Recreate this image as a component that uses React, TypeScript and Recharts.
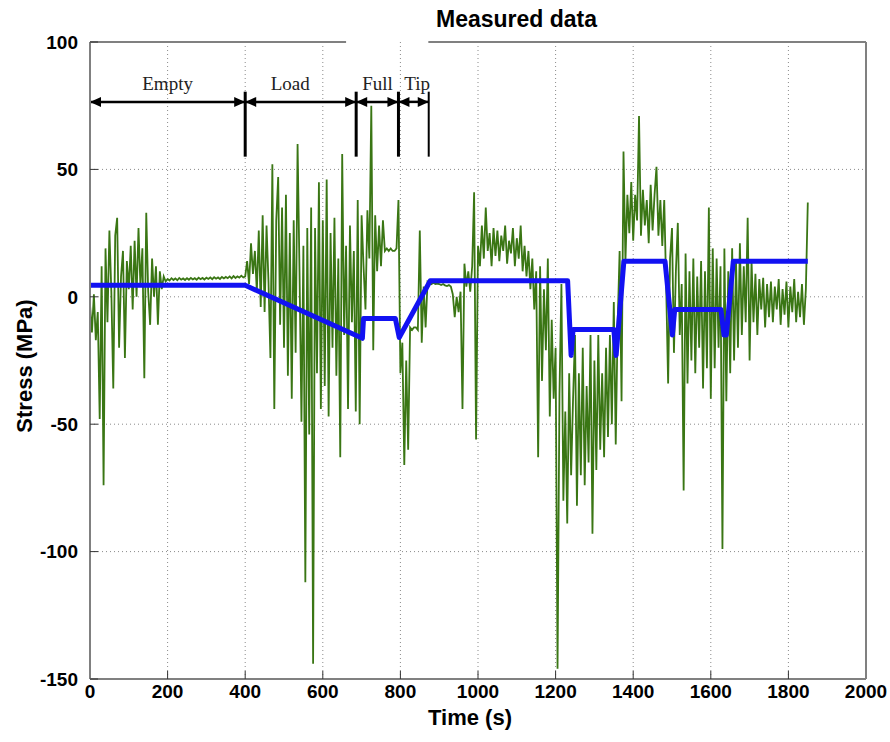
import { LineChart, Line, XAxis, YAxis, CartesianGrid, ReferenceLine } from 'recharts';

// measured stress, one sample every 5 s from t = 0 to t = 1850
const sampleStep = 5;
const measured = [
  -3, -14, 1, -17, -6, -48, 12, -74, 19, -10,
  26, 2, -36, 24, 31, -20, 8, 18, -24, 14,
  3, 20, -5, 22, 0, 27, 4, 19, -32, 33,
  2, -11, 15, 0, 12, -11, 10, 3, 8, 6,
  7, 6.4, 7.3, 6.6, 7.2, 6.5, 7.4, 6.7, 7.2, 6.6,
  7.3, 6.7, 7.4, 6.8, 7.3, 6.7, 7.5, 6.9, 7.4, 6.8,
  7.5, 7.0, 7.6, 6.9, 7.7, 7.1, 7.6, 7.0, 7.8, 7.2,
  7.8, 7.3, 8.0, 7.2, 8.1, 7.4, 8.0, 7.5, 8.3, 7.6,
  8, 14, 5, 21, 9, 18, 2, 26, -4, 32,
  -6, 28, 6, -24, 52, -44, 30, 47, -11, 35,
  -20, 40, -31, 25, -40, 30, -22, 60, 10, -49,
  20, -112, 27, -54, 35, -144, 27, -30, 45, -44,
  30, -35, 46, -47, 25, -20, 31, -31, 15, -63,
  56, -15, 20, -44, 28, -10, 18, -45, 38, -50,
  32, 12, -5, 34, 15, 75, -21, 32, 10, 28,
  12, 30, 18, 19, 18, 19, 18, 18, 19, 38,
  -30, -18, -66, -25, -60, -12, -13, -12, -12, -13,
  26, -18, 4, -12, 6, 5.5, 5, 5.5, 5, 5.2,
  5, 4.6, 5, 4.5, 4.2, 4.6, 4, 1, -8, 0,
  -6, 2, -44, 13, 4, 10, 2, 12, 41, -56,
  20, 12, 28, 15, 35, 18, 25, 12, 27, 16,
  26, 14, 24, 18, 28, 13, 22, 17, 27, 12,
  23, 15, 28, 10, 20, 8, 18, 3, 15, -5,
  10, -63, 12, -33, 3, -21, 15, -47, -9, -40,
  -20, -146, -38, 5, -80, -45, -89, -30, -70, -40,
  -15, -82, -30, -70, -20, -74, -35, -65, -15, -93,
  -25, -68, -15, -60, -30, -63, -20, -55, -15, -50,
  -2, -58, -10, 18, -41, 57, 14, 40, 25, 45,
  22, 40, 30, 71, 24, 42, 28, 38, 21, 44,
  26, 40, 51, 24, 38, 20, 38, 4, -34, 15,
  27, -22, 10, 29, -15, 5, -76, 17, -34, 10,
  -25, 15, -30, 8, -20, 14, -36, 10, -28, 35,
  -40, 19, -28, 15, -20, 12, -99, 19, -41, 10,
  -30, 19, -25, 14, -20, 21, -15, 12, -10, 31,
  -25, 14, -10, 9, -15, 7, -5, 7.5, -12, 5,
  -8, 6, -10, 4, -5, 7, -11, 3, -7, 6,
  -12, 4, -6, 7, -10, 2, -8, 5, -11, 3,
  37,
];

// model (blue) stress
const modelTimes = [0, 400, 702, 705, 787, 797, 877, 1231, 1240, 1245, 1350, 1356, 1376, 1482, 1501, 1507, 1626, 1634, 1640, 1658, 1850];
const modelStress = [4.5, 4.5, -16.3, -8.5, -8.5, -16, 6.3, 6.3, -23, -12.8, -12.8, -23, 14, 14, -15, -5, -5, -15, -15, 14, 14];

const xTicks = [0, 200, 400, 600, 800, 1000, 1200, 1400, 1600, 1800, 2000];
const yTicks = [-150, -100, -50, 0, 50, 100];

// phase annotations
const phaseNames = ['Empty', 'Load', 'Full', 'Tip'];
const phaseStart = [0, 400, 686, 795];
const phaseEnd = [400, 686, 795, 873];
const phaseLabelAt = [200, 516, 741, 843];
const markerTimes = [400, 686, 795, 873];
const arrowLevel = 76.5;
const markerTop = 80.5;
const markerBottom = 55;

const measuredData = measured.map((v, i) => ({ t: i * sampleStep, v }));
const modelData = modelTimes.map((t, i) => ({ t, v: modelStress[i] }));

const tickStyle = { fill: '#000', fontSize: 19, fontWeight: 'bold', fontFamily: 'Liberation Sans' };

const makeArrow = (name: string, t0: number, t1: number, at: number) => (p: any) => {
  const { x1, y1, x2 } = p;
  const w = 11, h = 5;
  const tx = x1 + ((at - t0) / (t1 - t0)) * (x2 - x1);
  return (
    <g>
      <line x1={x1} y1={y1} x2={x2} y2={y1} stroke="#000" strokeWidth={2.5} />
      <polygon points={`${x1},${y1} ${x1 + w},${y1 - h} ${x1 + w},${y1 + h}`} fill="#000" />
      <polygon points={`${x2},${y1} ${x2 - w},${y1 - h} ${x2 - w},${y1 + h}`} fill="#000" />
      <text x={tx} y={y1 - 12} textAnchor="middle" fontFamily="Liberation Serif" fontSize={19} fill="#222">{name}</text>
    </g>
  );
};

export default function App() {
  return (
    <div style={{ position: 'absolute', left: 0, top: 0, width: 890, height: 742, background: '#fff' }}>
      <LineChart width={890} height={742} margin={{ top: 42, right: 0, left: 0, bottom: 0 }}>
        <CartesianGrid stroke="#8a8a8a" strokeDasharray="1 3"
          horizontalValues={[50, 0, -50, -100]} verticalValues={[200, 400, 600, 800, 1000, 1200, 1400, 1600, 1800]} />
        <XAxis dataKey="t" type="number" domain={[0, 2000]} ticks={xTicks} height={63}
          axisLine={{ stroke: '#808080', strokeWidth: 2 }} tickLine={{ stroke: '#333' }} tickSize={-8} tickMargin={14}
          tick={tickStyle} allowDataOverflow />
        <YAxis type="number" domain={[-150, 100]} ticks={yTicks} width={90}
          axisLine={{ stroke: '#808080', strokeWidth: 2 }} tickLine={{ stroke: '#333' }} tickSize={-8} tickMargin={20}
          tick={tickStyle} allowDataOverflow />
        <YAxis yAxisId="r" orientation="right" type="number" domain={[-150, 100]} ticks={yTicks} width={24}
          axisLine={{ stroke: '#808080', strokeWidth: 2 }} tickLine={{ stroke: '#333' }} tickSize={-8}
          tickFormatter={() => ''} />
        <ReferenceLine segment={[{ x: 0, y: 100 }, { x: 660, y: 100 }]} stroke="#808080" strokeWidth={2} />
        <ReferenceLine segment={[{ x: 872, y: 100 }, { x: 2000, y: 100 }]} stroke="#808080" strokeWidth={2} />
        <Line data={measuredData} dataKey="v" type="linear" stroke="#3a7614" strokeWidth={1.8} strokeLinejoin="miter" dot={false} isAnimationActive={false} />
        <Line data={modelData} dataKey="v" type="linear" stroke="#1212f2" strokeWidth={5} strokeLinejoin="round" dot={false} isAnimationActive={false} />
        {phaseNames.map((n, i) => (
          <ReferenceLine key={n} segment={[{ x: phaseStart[i], y: arrowLevel }, { x: phaseEnd[i], y: arrowLevel }]}
            shape={makeArrow(n, phaseStart[i], phaseEnd[i], phaseLabelAt[i])} />
        ))}
        {markerTimes.map((t, i) => (
          <ReferenceLine key={'m' + t} segment={[{ x: t, y: markerBottom }, { x: t, y: markerTop }]}
            stroke="#000" strokeWidth={i === 3 ? 2 : 3} />
        ))}
      </LineChart>
      <div style={{ position: 'absolute', left: 436, top: 6, fontFamily: 'Liberation Sans', fontWeight: 'bold', fontSize: 23, color: '#000' }}>
        Measured data
      </div>
      <div style={{ position: 'absolute', left: 470, top: 718, transform: 'translate(-50%, -50%)', fontFamily: 'Liberation Sans', fontWeight: 'bold', fontSize: 22, whiteSpace: 'nowrap' }}>
        Time (s)
      </div>
      <div style={{ position: 'absolute', left: 25, top: 366, transform: 'translate(-50%, -50%) rotate(-90deg)', fontFamily: 'Liberation Sans', fontWeight: 'bold', fontSize: 22, whiteSpace: 'nowrap' }}>
        Stress (MPa)
      </div>
    </div>
  );
}
